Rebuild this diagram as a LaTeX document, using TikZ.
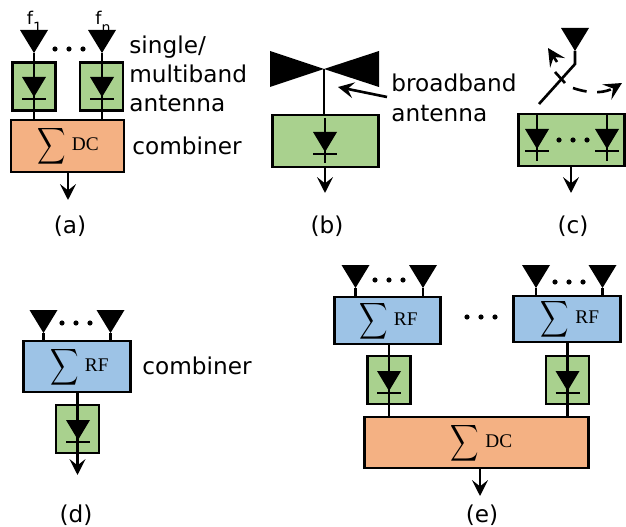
\documentclass[tikz,border=0pt]{standalone}
\usepackage{fontspec}
\setmainfont{DejaVu Sans}
\newfontfamily\sumfont{Liberation Serif}
\usepackage{tikz}
\usetikzlibrary{arrows.meta}

\definecolor{rectgreen}{HTML}{A9D18E}
\definecolor{dcorange}{HTML}{F4B183}
\definecolor{rfblue}{HTML}{9DC3E6}

\newcommand{\sumlabel}[1]{$\vcenter{\hbox{\scalebox{1.12}[1.45]{$\displaystyle\sum$}}}$\hspace{3.5pt}{\sumfont\fontsize{11}{12}\selectfont #1}}
\newcommand{\freqlabel}[1]{f\raisebox{-4pt}{\fontsize{8}{8}\selectfont #1}}

\tikzset{
	wire/.style={line width=1.5pt},
	outarrow/.style={line width=1.5pt, -{Stealth[length=9pt,width=9pt,inset=3.5pt]}},
	swarrow/.style={line width=1.5pt, -{Stealth[length=10pt,width=10pt,inset=4pt]}},
	rectbox/.style={draw, fill=rectgreen, line width=1.5pt, inner sep=0pt, minimum width=.86cm, minimum height=.96cm},
	widebox/.style={draw, line width=1.4pt, inner sep=0pt, minimum width=#1, minimum height=1.03cm},
	txt/.style={inner sep=0pt, font=\fontsize{13.2}{16.7}\selectfont},
	freqtxt/.style={inner sep=0pt, anchor=base, font=\fontsize{10}{12}\selectfont},
	sumtxt/.style={inner sep=0pt},
	antenna/.pic={
		\fill (-14,-23) -- (14,-23) -- (0,0) -- cycle;
		\coordinate (-feed) at (0,0);
	},
	diode/.pic={
		\fill (-12,-10) -- (12,-10) -- (0,10) -- cycle;
		\draw[line width=1.3pt] (-12,12) -- (12,12);
	},
	dots/.pic={
		\foreach \x in {-14,0,14}
			\fill (\x,0) circle (2.6);
	}
}

\begin{document}
\begin{tikzpicture}[x=0.02cm, y=-0.02cm]
	\useasboundingbox (0,0) rectangle (626,527);

	% (a)
	\node[freqtxt] (fone) at (34.5,25) {\freqlabel{1}};
	\node[freqtxt] (fnum) at (103,25) {\freqlabel{n}};
	\pic (antA1) at (34,53) {antenna};
	\pic (antA2) at (102,53) {antenna};
	\pic at (69,49) {dots};
	\node[widebox=2.26cm, fill=dcorange] (combA) at (67.5,146) {};
	\node[rectbox] (recA1) at (34,86.5) {};
	\node[rectbox] (recA2) at (101.5,86.5) {};
	\draw[wire] (antA1-feed) -- (antA1-feed |- combA.north);
	\draw[wire] (antA2-feed) -- (antA2-feed |- combA.north);
	\pic at (34,87) {diode};
	\pic at (102,87) {diode};
	\node[sumtxt] (sumA) at (68,146) {\sumlabel{DC}};
	\coordinate (endA) at (68,200);
	\draw[outarrow] (combA.south -| endA) -- (endA);
	\node[txt, anchor=west, align=left] (lblsingle) at (129,74) {single/\\multiband\\antenna};
	\node[txt, anchor=west] (lblcombA) at (132,146) {combiner};
	\node[txt] (capA) at (70,226) {(a)};

	% (b)
	\fill (270,51) -- (270,87) -- (324,69) -- (379,87) -- (379,51) -- (324,69) -- cycle;
	\coordinate (bow) at (324,69);
	\node[widebox=2.12cm, fill=rectgreen] (recB) at (325.5,141) {};
	\draw[wire] (bow) -- (bow |- recB.north);
	\coordinate (stemB) at (325,118);
	\coordinate (stemBend) at (325,163);
	\draw[wire] (stemB) -- (stemBend);
	\pic at (325,142) {diode};
	\coordinate (endB) at (325,193);
	\draw[outarrow] (recB.south -| endB) -- (endB);
	\node[txt, anchor=west, align=left] (lblbroad) at (391,98) {broadband\\antenna};
	\coordinate (tailB) at (387,97);
	\coordinate (tipB) at (338,87);
	\draw[outarrow] (tailB) -- (tipB);
	\node[txt] (capB) at (327,226) {(b)};

	% (c)
	\pic (antC) at (575,51) {antenna};
	\coordinate (swknee) at (575,64);
	\coordinate (swfoot) at (539,104);
	\draw[wire] (antC-feed) -- (swknee) -- (swfoot);
	\coordinate (tickA) at (555,72);
	\coordinate (tickB) at (565,83);
	\draw[wire] (tickA) -- (tickB);
	\node[widebox=2.12cm, fill=rectgreen] (recC) at (571.5,140) {};
	\coordinate (swtailL) at (557,62);
	\coordinate (swtipL) at (548,48);
	\draw[swarrow] (swtailL) -- (swtipL);
	\coordinate (swtailR) at (573,88);
	\coordinate (swtipR) at (622,83);
	\draw[swarrow, dash pattern=on 8pt off 6pt] (swtailR) to[bend right=25] (swtipR);
	\foreach \x in {537,607} {
		\draw[wire] (\x,114) -- (\x,161);
		\pic at (\x,139) {diode};
	}
	\pic at (573,140) {dots};
	\coordinate (endC) at (571,193);
	\draw[outarrow] (recC.south -| endC) -- (endC);
	\node[txt] (capC) at (573,226) {(c)};

	% (d)
	\pic (antD1) at (43.5,333) {antenna};
	\pic (antD2) at (110.5,333) {antenna};
	\pic at (76,323) {dots};
	\node[widebox=2.14cm, fill=rfblue] (combD) at (77,366.5) {};
	\node[rectbox] (recD) at (77.5,429) {};
	\draw[wire] (antD1-feed) -- (antD1-feed |- combD.north);
	\draw[wire] (antD2-feed) -- (antD2-feed |- combD.north);
	\coordinate (endD) at (77.5,475);
	\draw[wire] (combD.south -| endD) -- (recD.center);
	\draw[outarrow] (recD.center) -- (endD);
	\pic at (78,430) {diode};
	\node[sumtxt] (sumD) at (79.5,367.5) {\sumlabel{RF}};
	\node[txt, anchor=west] (lblcombD) at (142,366) {combiner};
	\node[txt] (capD) at (76,515) {(d)};

	% (e)
	\pic (antE1) at (355.5,288) {antenna};
	\pic (antE2) at (423,288) {antenna};
	\pic (antE3) at (536,288) {antenna};
	\pic (antE4) at (602.5,288) {antenna};
	\pic at (389,280) {dots};
	\pic at (569,282) {dots};
	\pic at (481,317) {dots};
	\node[widebox=2.12cm, fill=rfblue, minimum height=.93cm] (rfE1) at (387.5,320.5) {};
	\node[widebox=2.14cm, fill=rfblue, minimum height=.91cm] (rfE2) at (567,319) {};
	\node[widebox=4.48cm, fill=dcorange] (combE) at (476.5,442.5) {};
	\node[rectbox] (recE1) at (389,380) {};
	\node[rectbox] (recE2) at (567.5,380) {};
	\draw[wire] (antE1-feed) -- (antE1-feed |- rfE1.north);
	\draw[wire] (antE2-feed) -- (antE2-feed |- rfE1.north);
	\draw[wire] (antE3-feed) -- (antE3-feed |- rfE2.north);
	\draw[wire] (antE4-feed) -- (antE4-feed |- rfE2.north);
	\draw[wire] (recE1.center |- rfE1.south) -- (recE1.center |- combE.north);
	\draw[wire] (recE2.center |- rfE2.south) -- (recE2.center |- combE.north);
	\pic at (389,381) {diode};
	\pic at (567.5,381) {diode};
	\node[sumtxt] (sumE1) at (388.5,321) {\sumlabel{RF}};
	\node[sumtxt] (sumE2) at (570,319) {\sumlabel{RF}};
	\node[sumtxt] (sumE3) at (481.5,443) {\sumlabel{DC}};
	\coordinate (endE) at (480,496);
	\draw[outarrow] (combE.south -| endE) -- (endE);
	\node[txt] (capE) at (482,515) {(e)};
\end{tikzpicture}
\end{document}
